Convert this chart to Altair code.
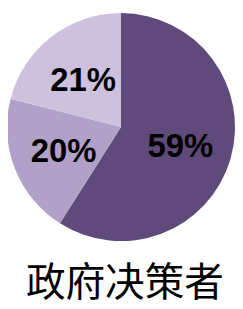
import altair as alt
import pandas as pd

labels = ["59%", "20%", "21%"]
values = [59, 20, 21]
order = [0, 1, 2]
colors = ["#5f4a7b", "#b1a0c8", "#cdc1de"]
title_text = "政府决策者"

df = pd.DataFrame({"label": labels, "value": values, "order": order})

cx, cy = 117, 118

base = alt.Chart(df).encode(
    theta=alt.Theta("value:Q", stack=True),
    order=alt.Order("order:Q"),
)

pie = base.mark_arc(outerRadius=118, stroke=None).encode(
    color=alt.Color("label:N", scale=alt.Scale(domain=labels, range=colors), legend=None),
    x=alt.value(cx),
    y=alt.value(cy),
)

text = base.mark_text(radius=64, font="Liberation Sans", fontWeight="bold", fontSize=34,
                      color="black").encode(
    text="label:N",
    x=alt.value(cx),
    y=alt.value(cy + 3),
)

title = alt.Chart(pd.DataFrame({"t": [title_text]})).mark_text(
    font="Noto Sans CJK SC", fontSize=41, color="black", baseline="middle", align="center"
).encode(text="t:N", x=alt.value(121), y=alt.value(281))

chart = alt.layer(pie, text, title).properties(
    width=235, height=301, padding=0, autosize=alt.AutoSizeParams(type="none")
).configure_view(stroke=None)

chart.save("out.html", embed_options={"renderer": "svg", "actions": False})
